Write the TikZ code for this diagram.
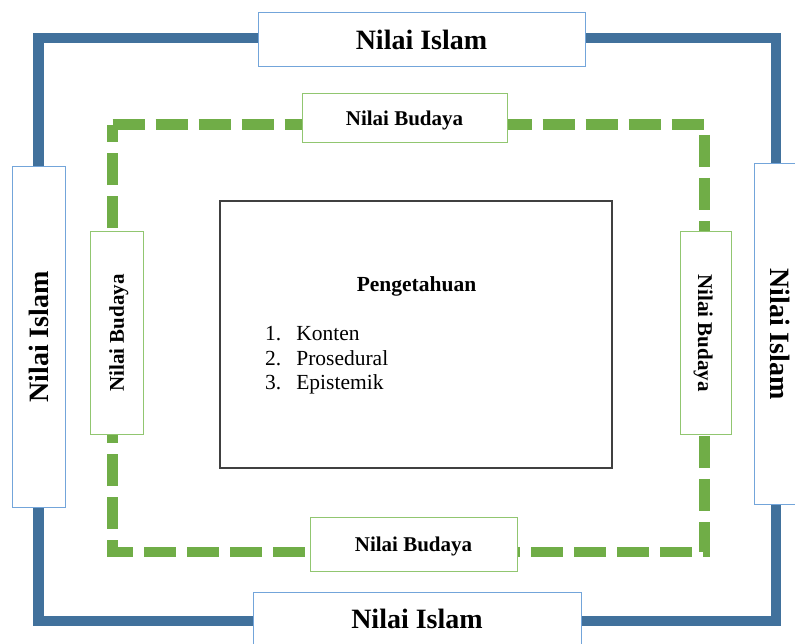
\documentclass[tikz,border=0pt]{standalone}
\usepackage{fontspec}
\setmainfont{Liberation Serif}
\usepackage{tikz}

\begin{document}
\begin{tikzpicture}[x=1pt,y=-1pt,
	islam node/.style={draw=islamedge,line width=1pt,fill=white,inner sep=0pt,font=\fontsize{28}{32}\selectfont\bfseries},
	budaya node/.style={draw=budayaedge,line width=1pt,fill=white,inner sep=0pt,text depth=0pt,font=\fontsize{21}{24}\selectfont\bfseries}]
	
	\definecolor{islam}{RGB}{65,113,156}
	\definecolor{islamedge}{RGB}{115,165,218}
	\definecolor{budaya}{RGB}{112,173,71}
	\definecolor{budayaedge}{RGB}{145,198,112}
	\definecolor{frame}{RGB}{64,64,64}
	
	\useasboundingbox (0,0) rectangle (795,644);
	
	\draw[islam,line width=10.5pt] (38.5,38) -- (776,38) -- (776,621) -- (38.5,621) -- cycle;
	\draw[budaya,line width=10.5pt,dash pattern=on 32pt off 11pt] (112.7,124.7) -- (704.6,124.7) -- (704.6,552) -- (112.7,552) -- cycle;
	
	\node[islam node, minimum width=327pt, minimum height=54pt] (islamT) at (421.5,40) {Nilai Islam};
	\node[islam node, minimum width=328pt, minimum height=54pt] (islamB) at (417,619) {Nilai Islam};
	\node[islam node, rotate=90, minimum width=340pt, minimum height=53pt] (islamL) at (38.5,337) {Nilai Islam};
	\node[islam node, rotate=-90, minimum width=340pt, minimum height=53pt] (islamR) at (780.5,334) {Nilai Islam};
	
	\node[budaya node, minimum width=205pt, minimum height=49pt] (budayaT) at (404.5,118.5) {Nilai Budaya};
	\node[budaya node, minimum width=207pt, minimum height=54pt] (budayaB) at (413.5,544) {Nilai Budaya};
	\node[budaya node, rotate=90, minimum width=202pt, minimum height=53pt] (budayaL) at (116.5,333) {Nilai Budaya};
	\node[budaya node, rotate=-90, minimum width=202pt, minimum height=51pt] (budayaR) at (705.5,333) {Nilai Budaya};
	
	\node[draw=frame, line width=1.2pt, fill=white, minimum width=392pt, minimum height=267pt] (know) at (416,334.5) {};
	\node[anchor=base, inner sep=0pt, font=\fontsize{21.5}{24}\selectfont\bfseries] (title) at (416.5,292) {Pengetahuan};
	\node[anchor=base west, inner sep=0pt, font=\fontsize{21.5}{24.5}\selectfont] (items) at (265,341)
		{\begin{tabular}[t]{@{}l@{\hspace{15pt}}l@{}}1. & Konten\\2. & Prosedural\\3. & Epistemik\end{tabular}};
\end{tikzpicture}
\end{document}
